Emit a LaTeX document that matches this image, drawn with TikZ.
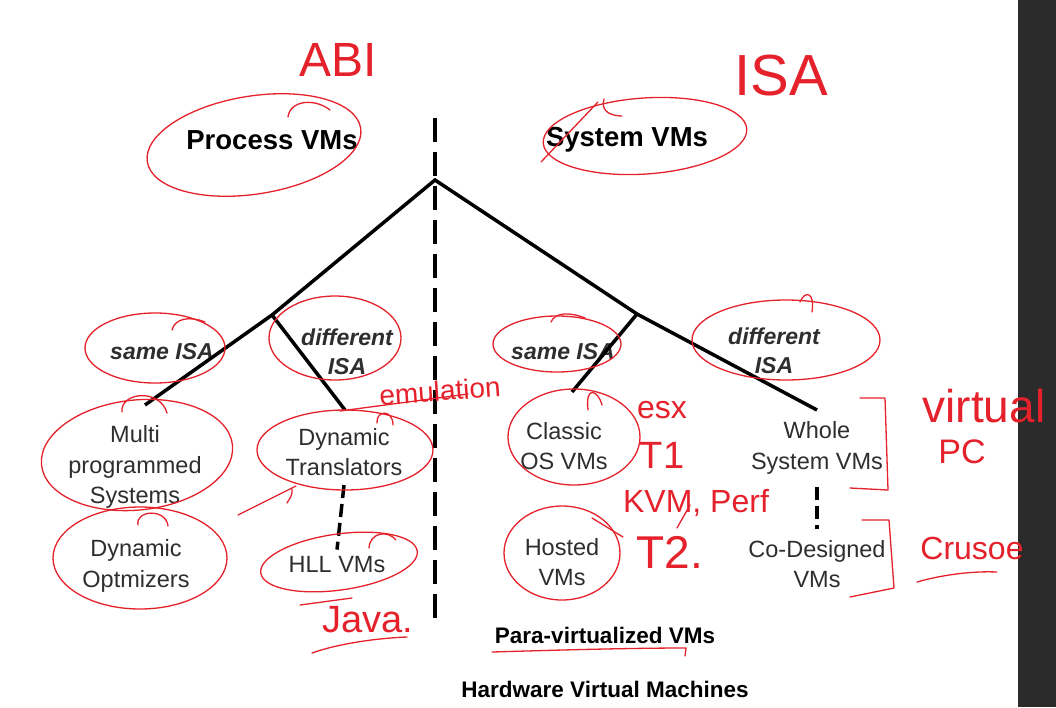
\documentclass[tikz,border=0pt]{standalone}
\usepackage{fontspec}
\setmainfont{Liberation Sans}
\newfontfamily\handfont{Liberation Sans}
\definecolor{ink}{HTML}{2E2E2E}
\definecolor{pen}{HTML}{E5212B}
\definecolor{barcol}{HTML}{2B2B2B}
\tikzset{
  tree/.style={line width=3.5pt, black},
  bigdash/.style={line width=3.5pt, black, dash pattern=on 24pt off 10pt},
  smalldash/.style={line width=3.5pt, black, dash pattern=on 13pt off 6pt},
  head/.style={font=\fontsize{27.5}{30}\selectfont\bfseries, text=black, inner sep=0pt},
  branch/.style={font=\fontsize{23}{29}\selectfont\bfseries\itshape, text=ink, align=center, inner sep=0pt},
  vm/.style={font=\fontsize{23.5}{30.5}\selectfont, text=ink, align=center, inner sep=0pt},
  foot/.style={font=\fontsize{22.5}{26}\selectfont\bfseries, text=black, inner sep=0pt},
  loop/.style={draw=pen, line width=1.3pt},
  scrawl/.style={draw=pen, line width=1.3pt, line cap=round, line join=round},
  hand/.style={text=pen, inner sep=0pt},
}
\begin{document}
\begin{tikzpicture}[x=1pt,y=-1pt]
\useasboundingbox (0,0) rectangle (1056,707);
\fill[white] (0,0) rectangle (1056,707);
\fill[barcol] (1018,0) rectangle (1056,707);

% ---------- slide text ----------
\node[head] (proc) at (272,140) {Process VMs};
\node[head] (sys) at (627,140) {System VMs};
\node[branch] (lsame) at (162,352) {same ISA};
\node[branch] (ldiff) at (347,352) {different\\ISA};
\node[branch] (rsame) at (563,352) {same ISA};
\node[branch] (rdiff) at (774,351) {different\\ISA};
\node[vm] (multi) at (135,467) {Multi\\programmed\\Systems};
\node[vm] (dyntr) at (344,452) {Dynamic\\Translators};
\node[vm] (dynopt) at (136,566) {Dynamic\\Optmizers};
\node[vm] (hll) at (337,565) {HLL VMs};
\node[vm] (classic) at (564,446) {Classic\\OS VMs};
\node[vm] (whole) at (817,448) {Whole\\System VMs};
\node[vm] (hosted) at (562,562) {Hosted\\VMs};
\node[vm] (codes) at (817,564) {Co-Designed\\VMs};
\node[foot] (para) at (605,635) {Para-virtualized VMs};
\node[foot] (hw) at (605,689) {Hardware Virtual Machines};

% ---------- tree ----------
\coordinate (vtop) at (435,118);
\coordinate (vbot) at (435,622);
\coordinate (root) at (435,180);
\coordinate (lsplit) at (272,315);
\coordinate (rsplit) at (637,314);
\coordinate (multitop) at (145,405);
\coordinate (dyntrtop) at (345,410);
\coordinate (classictop) at (572,392);
\coordinate (wholetop) at (817,410);
\draw[bigdash] (vtop) -- (vbot);
\draw[tree] (multitop) -- (lsplit) -- (root) -- (rsplit) -- (wholetop);
\draw[tree] (lsplit) -- (dyntrtop);
\draw[tree] (rsplit) -- (classictop);
\draw[smalldash] ([yshift=-9pt]dyntr.south) -- ([yshift=7pt]hll.north);
\draw[smalldash] ([yshift=-13pt]whole.south) -- ([yshift=11pt]codes.north);

% ---------- red annotations: loops ----------
\draw[loop, rotate around={9:(254,145)}] (254,145) ellipse [x radius=108pt, y radius=49pt];
\draw[scrawl] (288,117) .. controls (290,100) and (315,98) .. (330,110);
\draw[loop, rotate around={4:(645,136)}] (645,136) ellipse [x radius=102pt, y radius=38pt];
\draw[scrawl] (541,162) -- (598,102);
\draw[scrawl] (604,99) .. controls (600,112) and (612,116) .. (622,116);
\draw[loop] (155,348) ellipse [x radius=70pt, y radius=35pt];
\draw[scrawl] (172,330) .. controls (175,318) and (190,316) .. (205,322);
\draw[loop] (335,338) ellipse [x radius=66pt, y radius=42pt];
\draw[loop] (557,344) ellipse [x radius=64pt, y radius=28pt];
\draw[scrawl] (551,322) .. controls (555,312) and (570,312) .. (585,318);
\draw[loop] (786,340) ellipse [x radius=94pt, y radius=40pt];
\draw[scrawl] (800,302) .. controls (805,290) and (815,292) .. (812,312);
\draw[loop, rotate around={6:(137,455)}] (137,455) ellipse [x radius=96pt, y radius=55pt];
\draw[scrawl] (122,412) .. controls (120,392) and (160,388) .. (167,413);
\draw[loop] (345,450) ellipse [x radius=88pt, y radius=40pt];
\draw[scrawl] (377,423) .. controls (376,410) and (393,409) .. (393,425);
\draw[loop] (140,558) ellipse [x radius=87pt, y radius=51pt];
\draw[scrawl] (138,525) .. controls (135,510) and (166,508) .. (168,526);
\draw[loop, rotate around={8:(339,562)}] (339,562) ellipse [x radius=79pt, y radius=28pt];
\draw[scrawl] (369,548) .. controls (370,532) and (388,530) .. (396,540);
\draw[loop] (574,437) ellipse [x radius=66pt, y radius=48pt];
\draw[scrawl] (588,410) .. controls (585,385) and (598,390) .. (602,405);
\draw[loop] (562,553) ellipse [x radius=58pt, y radius=47pt];

% ---------- red annotations: strokes ----------
\draw[scrawl] (238,515) -- (296,486);
\draw[scrawl] (292,489) .. controls (292,495) .. (287,503);
\draw[scrawl] (340,411) -- (468,394);
\draw[scrawl] (592,518) -- (623,537);
\draw[scrawl] (677,528) -- (690,505);
\draw[scrawl] (300,605) -- (352,598);
\draw[scrawl] (312,653) .. controls (340,643) and (380,638) .. (407,637);
\draw[scrawl] (492,652) .. controls (560,650) and (630,648) .. (686,648) -- (685,656);
\draw[scrawl] (917,582) .. controls (945,574) and (975,571) .. (997,572);
\draw[scrawl] (860,398) -- (885,398) -- (888,490) -- (850,488);
\draw[scrawl] (862,520) -- (889,520) -- (894,588) -- (850,597);

% ---------- red annotations: words ----------
\node[hand, font=\handfont\fontsize{48}{48}\selectfont] (abi) at (338,60) {ABI};
\node[hand, font=\handfont\fontsize{58}{58}\selectfont] (isa) at (781,76) {ISA};
\node[hand, font=\handfont\fontsize{28}{28}\selectfont, rotate=4] (emul) at (440,391) {emulation};
\node[hand, font=\handfont\fontsize{32}{32}\selectfont] (esx) at (662,410) {esx};
\node[hand, font=\handfont\fontsize{38}{38}\selectfont] (tone) at (662,455) {T1};
\node[hand, font=\handfont\fontsize{32}{32}\selectfont] (kvm) at (696,503) {KVM, Perf};
\node[hand, font=\handfont\fontsize{46}{46}\selectfont] (ttwo) at (670,552) {T2.};
\node[hand, font=\handfont\fontsize{38}{38}\selectfont] (java) at (368,620) {Java.};
\node[hand, font=\handfont\fontsize{46}{46}\selectfont] (virt) at (984,406) {virtual};
\node[hand, font=\handfont\fontsize{34}{34}\selectfont] (pc) at (962,452) {PC};
\node[hand, font=\handfont\fontsize{32}{32}\selectfont] (crusoe) at (972,548) {Crusoe};
\end{tikzpicture}
\end{document}
